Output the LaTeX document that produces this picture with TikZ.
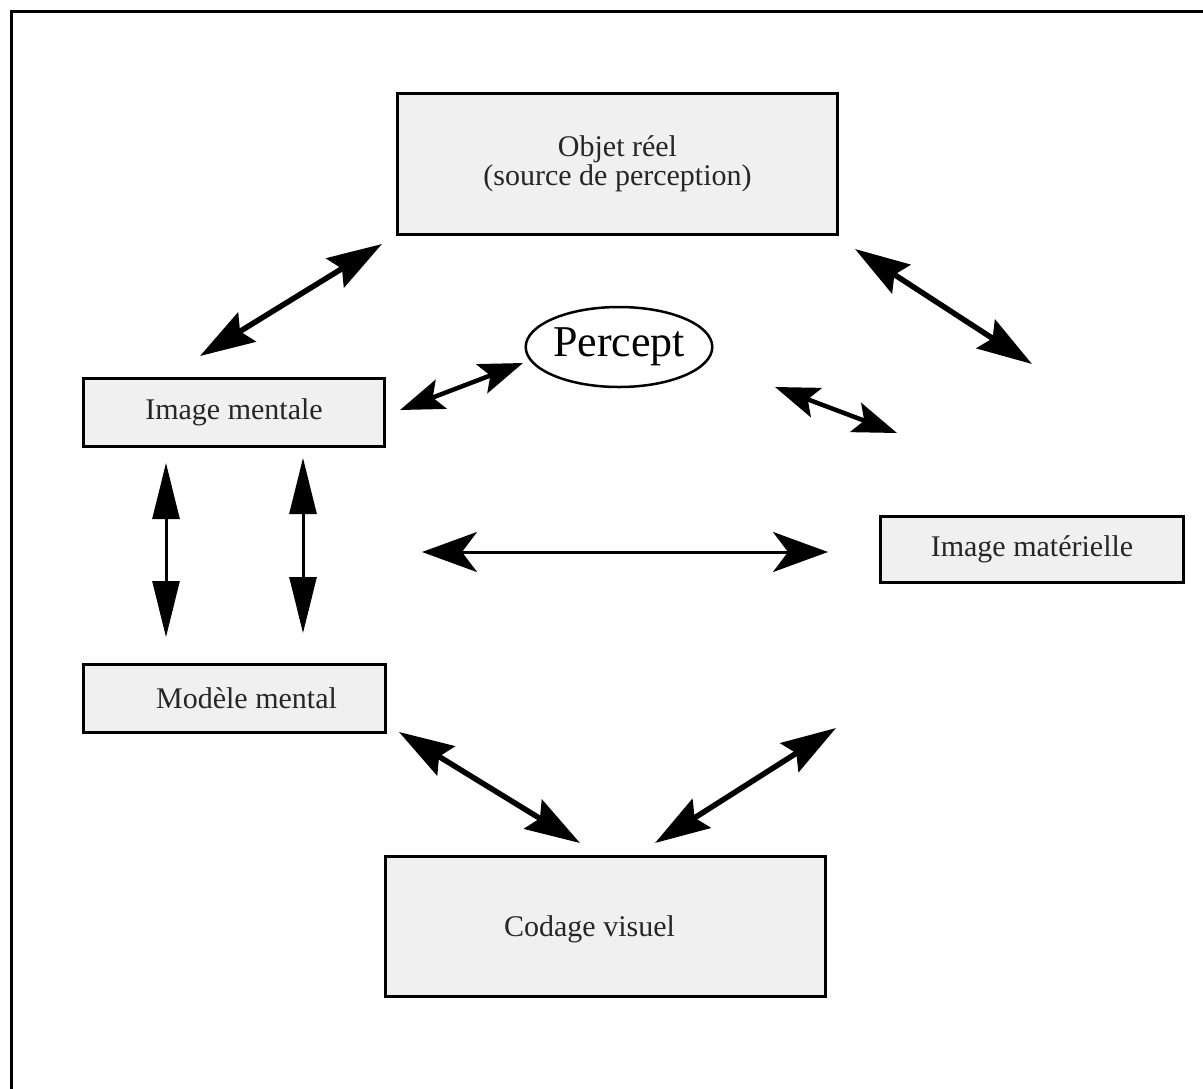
\documentclass[tikz,border=0pt]{standalone}
\usepackage{fontspec}
\setmainfont{Liberation Serif}
\usetikzlibrary{shapes.geometric}
\usetikzlibrary{arrows.meta}

\begin{document}
\begin{tikzpicture}[x=1pt,y=-1pt,
  boite/.style={draw, line width=3pt, fill=gray!12, inner sep=0pt, text=black!85, font=\fontsize{30}{29}\selectfont},
  gros/.style={line width=5.5pt, {Stealth[length=55pt,width=34pt,inset=8pt]}-{Stealth[length=55pt,width=34pt,inset=8pt]}},
  moyen/.style={line width=4.5pt, {Stealth[length=44pt,width=31pt,inset=9pt]}-{Stealth[length=44pt,width=31pt,inset=9pt]}},
  vert/.style={line width=3pt, {Triangle[length=56pt,width=27pt]}-{Triangle[length=56pt,width=27pt]}},
  fin/.style={line width=3pt, {Stealth[length=55pt,width=40pt,inset=15pt]}-{Stealth[length=55pt,width=40pt,inset=15pt]}}]
\useasboundingbox (0,0) rectangle (1203,1088);
\draw[line width=3pt] (11,1100) -- (11,11) -- (1215,11);

% les boites
\node[boite, minimum width=440pt, minimum height=141pt, align=center] (objet) at (617.5,164) {Objet réel\\(source de perception)};
\node[boite, minimum width=301pt, minimum height=68pt] (mentale) at (234,412.5) {Image mentale};
\node[boite, minimum width=303pt, minimum height=66pt] (materielle) at (1032,549.5) {Image matérielle};
\node[boite, minimum width=302pt, minimum height=68pt, label={[xshift=12pt, text=black!85, font=\fontsize{30}{29}\selectfont]center:Modèle mental}] (modele) at (234.5,698.5) {};
\node[boite, minimum width=440pt, minimum height=140pt, label={[xshift=-16pt, yshift=-3pt, text=black!85, font=\fontsize{30}{29}\selectfont]center:Codage visuel}] (codage) at (605.5,926.5) {};
\node[draw, ellipse, line width=2.5pt, minimum width=184pt, minimum height=80pt, inner sep=0pt, font=\fontsize{44}{44}\selectfont] (percept) at (619,347) {Percept};

% extremites des fleches
\coordinate (om1) at (200,356);
\coordinate (om2) at (382,244);
\coordinate (od1) at (855,249);
\coordinate (od2) at (1032,364);
\coordinate (mp1) at (400,410);
\coordinate (mp2) at (523,363);
\coordinate (pd1) at (775,387);
\coordinate (pd2) at (897,433);
\coordinate (h1) at (422,552);
\coordinate (h2) at (828,552);
\coordinate (vg1) at (166,463);
\coordinate (vg2) at (166,637);
\coordinate (vd1) at (303,458);
\coordinate (vd2) at (303,633);
\coordinate (mc1) at (399,732);
\coordinate (mc2) at (580,843);
\coordinate (cd1) at (655,843);
\coordinate (cd2) at (836,728);

% les fleches
\draw[gros] (om1) -- (om2);
\draw[gros] (od1) -- (od2);
\draw[moyen] (mp1) -- (mp2);
\draw[moyen] (pd1) -- (pd2);
\draw[fin] (h1) -- (h2);
\draw[vert] (vg1) -- (vg2);
\draw[vert] (vd1) -- (vd2);
\draw[gros] (mc1) -- (mc2);
\draw[gros] (cd1) -- (cd2);
\end{tikzpicture}
\end{document}
